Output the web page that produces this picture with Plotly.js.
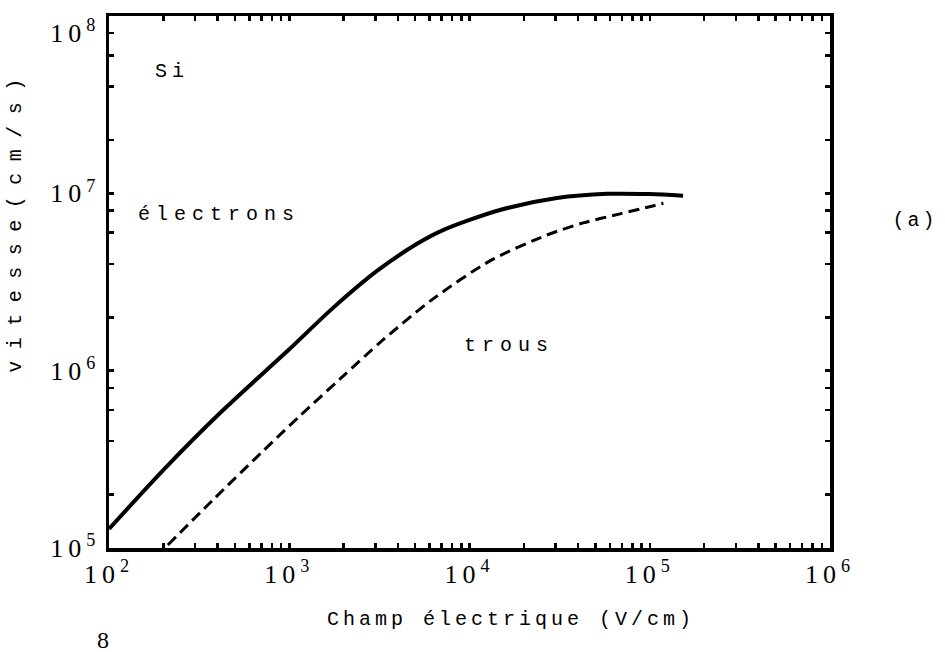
<!DOCTYPE html>
<html>
<head>
<meta charset="utf-8">
<script src="https://cdn.plot.ly/plotly-3.0.1.min.js"></script>
<style>
  html, body { margin: 0; padding: 0; background: #fff; }
  #chart { width: 945px; height: 652px; }
  .xtick text, .ytick text { letter-spacing: 5px; }
  g.annotation[data-index="0"] text { letter-spacing: 5px; }
  g.annotation[data-index="1"] text { letter-spacing: 6px; }
  g.annotation[data-index="2"] text { letter-spacing: 6px; }
  g.annotation[data-index="3"] text { letter-spacing: 3px; }
  g.annotation[data-index="5"] text { letter-spacing: 4px; }
  g.annotation[data-index="6"] text { letter-spacing: 11.5px; }
</style>
</head>
<body>
<div id="chart"></div>
<script>
// Electric field (V/cm) and drift velocity (cm/s) for Si
const fieldElectrons = [100, 200, 413, 1000, 1750, 3067, 5117, 7130, 14760, 30550, 57900, 100000, 153000];
const velElectrons   = [1.28e5, 2.75e5, 5.77e5, 1.32e6, 2.26e6, 3.65e6, 5.19e6, 6.2e6, 8.05e6, 9.4e6, 9.93e6, 9.9e6, 9.7e6];

const fieldHoles = [212, 378, 715, 1146, 1914, 3311, 6280, 13000, 26900, 42700, 68400, 104000, 119000];
const velHoles   = [1.04e5, 1.87e5, 3.52e5, 5.56e5, 8.98e5, 1.49e6, 2.54e6, 4.16e6, 5.82e6, 6.81e6, 7.66e6, 8.49e6, 8.8e6];

const xDecades = [2, 3, 4, 5, 6];
const yDecades = [5, 6, 7, 8];
const xMinorMult = [2, 3, 4, 5, 6, 7, 8, 9];
const yMinorMult = [2, 4, 6, 8];

function majorTicks(decades) {
  return {
    vals: decades.map(d => Math.pow(10, d)),
    // the top label sits just below the frame, as in the reference
    text: decades.map((d, i) => (i === decades.length - 1 && decades === yDecades ? '<br>' : '') + '10<sup>' + d + '</sup>')
  };
}
function minorTicks(decades, mult) {
  const vals = [];
  decades.slice(0, -1).forEach(d => mult.forEach(m => vals.push(m * Math.pow(10, d))));
  return vals;
}
const xt = majorTicks(xDecades);
const yt = majorTicks(yDecades);

const traces = [
  {x: fieldElectrons, y: velElectrons, mode: 'lines', name: 'électrons',
   line: {color: '#000', width: 4, shape: 'spline', smoothing: 0.8}},
  {x: fieldHoles, y: velHoles, mode: 'lines', name: 'trous',
   line: {color: '#000', width: 3, dash: '11px,6px', shape: 'spline', smoothing: 0.8}}
];

const mono = 'Liberation Mono, Courier New, monospace';
const serif = 'Liberation Serif, Times New Roman, serif';

const axisCommon = {
  type: 'log', showgrid: false, zeroline: false,
  showline: true, linecolor: '#000', linewidth: 3.5, mirror: 'allticks',
  ticks: 'inside', ticklen: 5, tickwidth: 2.5, tickcolor: '#000',
  tickmode: 'array', ticklabeloverflow: 'allow',
  tickfont: {family: serif, size: 26, color: '#000'}
};

const layout = {
  width: 945, height: 652,
  margin: {l: 109, r: 115, t: 16, b: 104},
  paper_bgcolor: '#fff', plot_bgcolor: '#fff',
  showlegend: false,
  xaxis: Object.assign({}, axisCommon, {range: [2, 6], tickvals: xt.vals, ticktext: xt.text,
    minor: {tickmode: 'array', tickvals: minorTicks(xDecades, xMinorMult), ticks: 'inside', ticklen: 5, tickwidth: 2.5, tickcolor: '#000', showgrid: false}}),
  yaxis: Object.assign({}, axisCommon, {range: [5, 8], tickvals: yt.vals, ticktext: yt.text,
    minor: {tickmode: 'array', tickvals: minorTicks(yDecades, yMinorMult), ticks: 'inside', ticklen: 5, tickwidth: 2.5, tickcolor: '#000', showgrid: false}}),
  annotations: [
    {text: 'Si', xref: 'paper', yref: 'paper', x: 0.0874, y: 0.8966, xanchor: 'center', yanchor: 'middle', showarrow: false,
     font: {family: mono, size: 20, color: '#000'}},
    {text: 'électrons', xref: 'paper', yref: 'paper', x: 0.153, y: 0.626, xanchor: 'center', yanchor: 'middle', showarrow: false,
     font: {family: mono, size: 20, color: '#000'}},
    {text: 'trous', xref: 'paper', yref: 'paper', x: 0.555, y: 0.380, xanchor: 'center', yanchor: 'middle', showarrow: false,
     font: {family: mono, size: 20, color: '#000'}},
    {text: '(a)', xref: 'paper', yref: 'paper', x: 1.118, y: 0.615, xanchor: 'center', yanchor: 'middle', showarrow: false,
     font: {family: mono, size: 20, color: '#000'}},
    {text: '8', xref: 'paper', yref: 'paper', x: -0.0083, y: -0.172, xanchor: 'center', yanchor: 'middle', showarrow: false,
     font: {family: serif, size: 24, color: '#000'}},
    {text: 'Champ électrique (V/cm)', xref: 'paper', yref: 'paper', x: 0.558, y: -0.135, xanchor: 'center', yanchor: 'middle', showarrow: false,
     font: {family: mono, size: 20, color: '#000'}},
    {text: 'vitesse(cm/s)', xref: 'paper', yref: 'paper', x: -0.130, y: 0.617, xanchor: 'center', yanchor: 'middle', showarrow: false,
     textangle: -90, font: {family: mono, size: 20, color: '#000'}}
  ]
};

Plotly.newPlot('chart', traces, layout, {staticPlot: true, displayModeBar: false});
</script>
</body>
</html>
